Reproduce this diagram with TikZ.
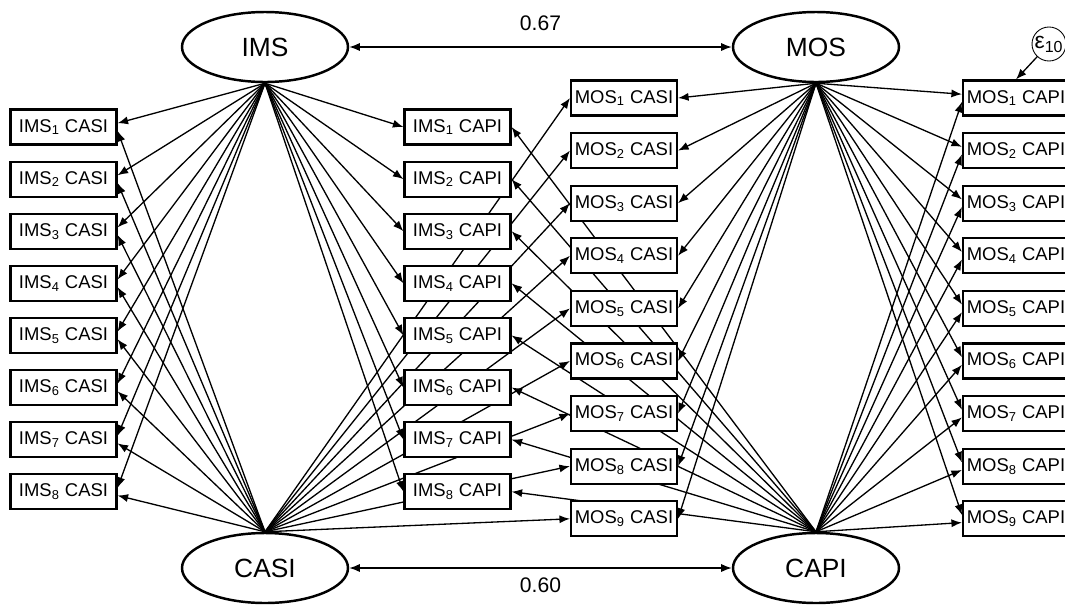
\documentclass[tikz,border=0pt]{standalone}
\usepackage{fontspec}
\setmainfont{Liberation Sans}
\usetikzlibrary{arrows.meta, positioning, shapes.geometric, backgrounds}

\begin{document}
\begin{tikzpicture}[x=0.2mm, y=-0.2mm]
		\tikzset{latent/.style = {shape=ellipse, draw, fill=white, line width=1.4pt, minimum width=33.2mm, minimum height=14mm, inner sep=0pt, font=\fontsize{15}{18}\selectfont}}
		\tikzset{indicator/.style = {shape=rectangle, draw, fill=white, line width=1.2pt, minimum width=21.2mm, minimum height=7mm, inner sep=1pt, font=\fontsize{10.5}{12}\selectfont}}
		\tikzset{edge/.style = {->, > = {Latex[length=6pt, width=4.6pt]}, line width=0.75pt}}

		\useasboundingbox (0,0) rectangle (1065,605);

		% traits and methods
		\node[latent] (ims) at (265,47) {IMS};
		\node[latent] (mos) at (816,47) {MOS};
		\node[latent] (casi) at (265,568) {CASI};
		\node[latent] (capi) at (816,568) {CAPI};

		% observed scores
		\foreach \k in {1,...,8} {
			\pgfmathsetmacro{\ypos}{127+52.1*(\k-1)}
			\node[indicator] (imscasi\k) at (63.5,\ypos) {IMS\textsubscript{\k} CASI};
			\node[indicator] (imscapi\k) at (457.5,\ypos) {IMS\textsubscript{\k} CAPI};
		}
		\foreach \k in {1,...,9} {
			\pgfmathsetmacro{\ypos}{98+52.6*(\k-1)}
			\node[indicator] (moscasi\k) at (624,\ypos) {MOS\textsubscript{\k} CASI};
			\node[indicator] (moscapi\k) at (1016,\ypos) {MOS\textsubscript{\k} CAPI};
		}

		\node[shape=circle, draw, line width=0.5pt, minimum size=6.8mm, inner sep=0pt, font=\fontsize{13}{14}\selectfont] (eps) at (1049,44) {ε\textsubscript{10}};

		% loadings, kept behind the boxes
		\begin{scope}[on background layer]
			\foreach \k in {1,...,8} {
				\draw[edge] (ims.south) -- (imscasi\k.4);
				\draw[edge] (casi.north) -- (imscasi\k.-4);
				\draw[edge] (ims.south) -- (imscapi\k.west);
				\draw[edge] (capi.north) -- (imscapi\k.east);
			}
			\foreach \k in {1,...,9} {
				\draw[edge] (casi.north) -- (moscasi\k.west);
				\draw[edge] (mos.south) -- (moscasi\k.east);
				\draw[edge] (mos.south) -- (moscapi\k.176);
				\draw[edge] (capi.north) -- (moscapi\k.184);
			}
		\end{scope}

		% correlations
		\draw[edge, <->] (ims) -- node[midway, above = 2mm, font=\fontsize{12}{14}\selectfont] {0.67} (mos);
		\draw[edge, <->] (casi) -- node[midway, below = 0.6mm, font=\fontsize{12}{14}\selectfont] {0.60} (capi);

		\draw[edge] (eps) -- (moscapi1.north);

	\end{tikzpicture}
\end{document}
